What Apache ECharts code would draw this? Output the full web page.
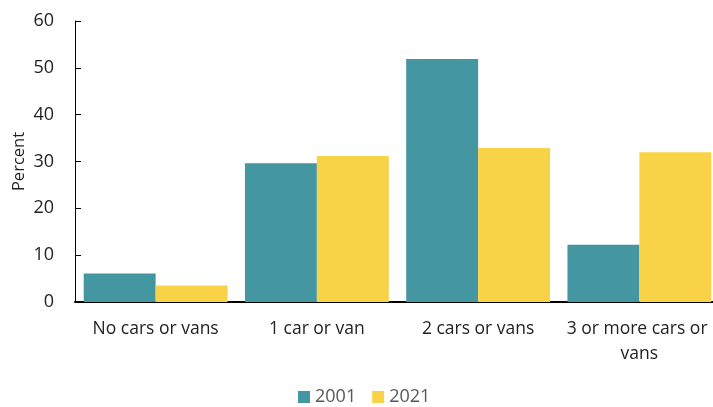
<!DOCTYPE html>
<html>
<head>
<meta charset="utf-8">
<script src="https://cdn.jsdelivr.net/npm/echarts@6/dist/echarts.min.js"></script>
<style>html,body{margin:0;padding:0;background:#fff}#c{width:713px;height:407px}</style>
</head>
<body>
<div id="c"></div>
<script>
const categories = ['No cars or vans', '1 car or van', '2 cars or vans', '3 or more cars or vans'];
const values2001 = [6.1, 29.6, 51.9, 12.2];
const values2021 = [3.5, 31.2, 32.9, 32.0];
const seriesNames = ['2001', '2021'];

const chart = echarts.init(document.getElementById('c'), null, {renderer: 'canvas'});
const font = '"Open Sans", "Noto Sans", sans-serif';
chart.setOption({
  animation: false,
  textStyle: {fontFamily: font},
  grid: {left: 75, right: -7, top: 21, bottom: 105, containLabel: false, outerBoundsMode: 'none'},
  legend: {
    bottom: -4,
    left: 293,
    itemWidth: 12, itemHeight: 12, itemGap: 16,
    icon: 'rect',
    textStyle: {fontSize: 18, color: '#595959', fontFamily: font},
    data: seriesNames
  },
  xAxis: {
    type: 'category',
    data: categories,
    axisLine: {lineStyle: {color: '#000', width: 2}},
    axisTick: {show: false},
    axisLabel: {
      color: '#222', fontSize: 17.5, margin: 15, interval: 0,
      width: 158, overflow: 'break', lineHeight: 25, fontFamily: font
    }
  },
  yAxis: {
    type: 'value',
    min: 0, max: 60, interval: 10,
    name: 'Percent',
    nameLocation: 'middle',
    nameGap: 47,
    nameMoveOverlap: false,
    nameTextStyle: {fontSize: 16.5, color: '#222', fontFamily: font},
    axisLine: {show: true, lineStyle: {color: '#000', width: 1}},
    axisTick: {show: true, inside: true, length: 6, lineStyle: {color: '#000'}},
    splitLine: {show: false},
    axisLabel: {color: '#222', fontSize: 18, margin: 21, fontFamily: font}
  },
  series: [
    {name: seriesNames[0], type: 'bar', data: values2001, barGap: '0%', barCategoryGap: '10.8%',
     itemStyle: {color: '#4496A1'}},
    {name: seriesNames[1], type: 'bar', data: values2021, barGap: '0%', barCategoryGap: '10.8%',
     itemStyle: {color: '#F8D348'}}
  ]
});
</script>
</body>
</html>
